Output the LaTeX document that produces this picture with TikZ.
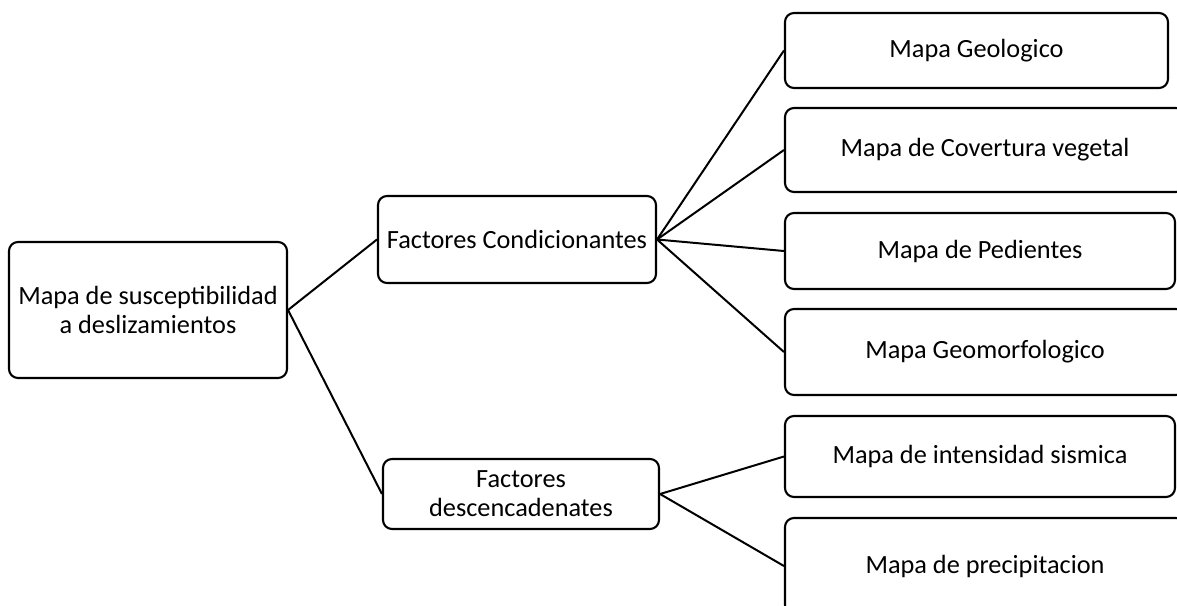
\documentclass[tikz,border=0pt]{standalone}
\usepackage{fontspec}
\setmainfont{Carlito}
\usepackage{tikz}

\begin{document}
\begin{tikzpicture}[x=1pt,y=-1pt]
    \tikzset{caja/.style = {shape=rectangle,draw,line width=2.1pt,rounded corners=9pt,align=center,inner sep=2pt,font=\fontsize{26.3}{29}\selectfont}}
    \tikzset{Raiz/.style = {caja,minimum width=278pt,minimum height=136pt}}
    \tikzset{Factor/.style = {caja,minimum width=278pt}}
    \tikzset{MapaBox/.style = {caja,minimum width=400pt}}

    \tikzset{linea/.style = {line width=2pt}}

    \useasboundingbox (0,0) rectangle (1177,605);

    \node[Raiz] (raiz) at (148,310) {Mapa de susceptibilidad\\a deslizamientos};

    \node[Factor,minimum height=87pt] (condic) at (517,239.5) {Factores Condicionantes};
    \node[Factor,minimum width=276pt,minimum height=70pt] (desenc) at (521,494) {Factores\\descencadenates};

    \node[MapaBox,minimum width=383pt,minimum height=75pt] (geolog) at (976.5,50.5) {Mapa Geologico};
    \node[MapaBox,minimum height=84pt] (cobert) at (985,150) {Mapa de Covertura vegetal};
    \node[MapaBox,minimum width=390pt,minimum height=76pt] (pendie) at (980,251) {Mapa de Pedientes};
    \node[MapaBox,minimum height=86pt] (geomorf) at (985,352) {Mapa Geomorfologico};
    \node[MapaBox,minimum width=390pt,minimum height=81pt] (sismo) at (980,456.5) {Mapa de intensidad sismica};
    \node[MapaBox,minimum height=96pt] (precip) at (985,566) {Mapa de precipitacion};

    \draw[linea] (raiz.east) -- (condic.west);
    \draw[linea] (raiz.east) -- (desenc.west);

    \draw[linea] (condic.east) -- (geolog.west);
    \draw[linea] (condic.east) -- (cobert.west);
    \draw[linea] (condic.east) -- (pendie.west);
    \draw[linea] (condic.east) -- (geomorf.west);

    \draw[linea] (desenc.east) -- (sismo.west);
    \draw[linea] (desenc.east) -- (precip.west);

\end{tikzpicture}
\end{document}
